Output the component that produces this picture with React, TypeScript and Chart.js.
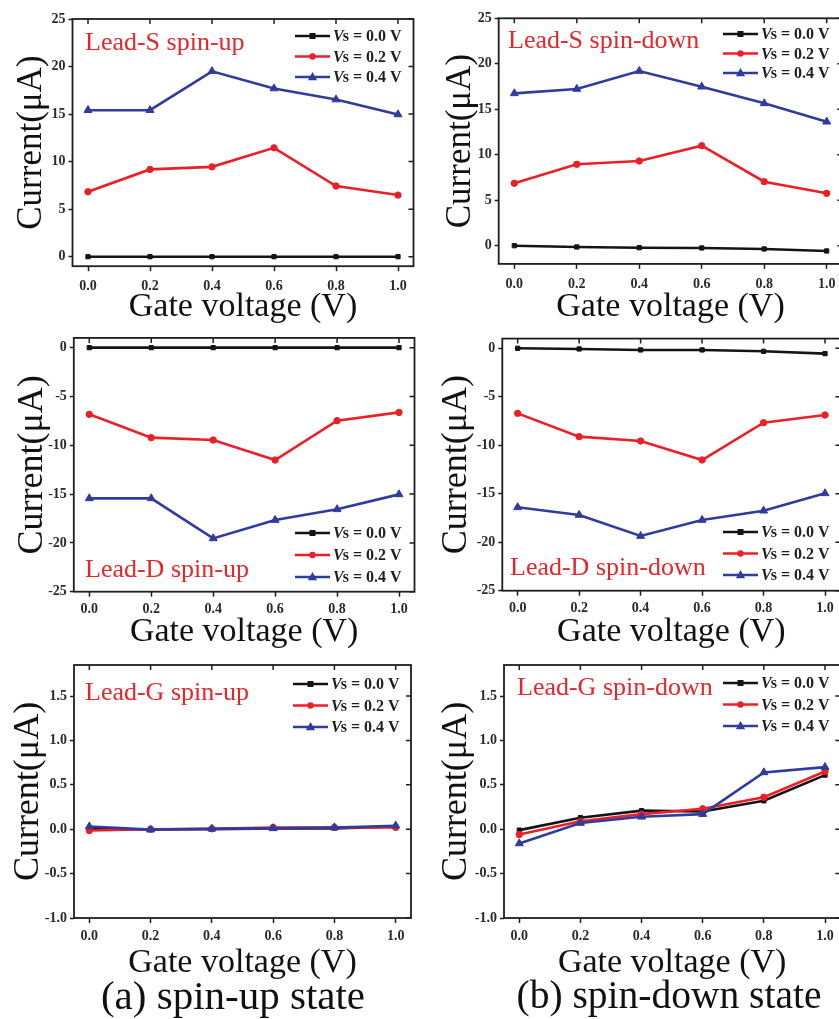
import React, { useEffect, useRef } from "react";
import { Chart, registerables } from "chart.js";

Chart.register(...registerables);

// ---------------- data ----------------
const GATE_V = [0, 0.2, 0.4, 0.6, 0.8, 1.0];
const X_TICKS = [0, 0.2, 0.4, 0.6, 0.8, 1.0];
const VS_LABELS = ["0.0", "0.2", "0.4"];

const S_UP_VS00 = [0, 0, 0, 0, 0, 0];
const S_UP_VS02 = [6.83, 9.18, 9.45, 11.45, 7.43, 6.48];
const S_UP_VS04 = [15.41, 15.41, 19.5, 17.69, 16.53, 14.96];

const S_DOWN_VS00 = [0, -0.14, -0.22, -0.25, -0.36, -0.58];
const S_DOWN_VS02 = [6.86, 8.95, 9.31, 11.0, 7.04, 5.76];
const S_DOWN_VS04 = [16.75, 17.23, 19.2, 17.48, 15.65, 13.63];

const D_UP_VS00 = [0, 0, 0, 0, 0, 0];
const D_UP_VS02 = [-6.83, -9.22, -9.46, -11.51, -7.48, -6.63];
const D_UP_VS04 = [-15.44, -15.44, -19.54, -17.66, -16.56, -15.03];

const D_DOWN_VS00 = [0, -0.07, -0.17, -0.17, -0.31, -0.55];
const D_DOWN_VS02 = [-6.71, -9.11, -9.56, -11.52, -7.67, -6.88];
const D_DOWN_VS04 = [-16.4, -17.19, -19.36, -17.71, -16.75, -14.96];

const G_UP_VS00 = [0, 0, 0, 0.01, 0.01, 0.03];
const G_UP_VS02 = [-0.015, 0, 0.005, 0.02, 0.02, 0.02];
const G_UP_VS04 = [0.03, -0.005, 0.005, 0.01, 0.02, 0.04];

const G_DOWN_VS00 = [-0.01, 0.13, 0.21, 0.2, 0.32, 0.61];
const G_DOWN_VS02 = [-0.06, 0.09, 0.17, 0.23, 0.36, 0.65];
const G_DOWN_VS04 = [-0.16, 0.07, 0.14, 0.17, 0.64, 0.7];

const Y_TICKS_S = [0, 5, 10, 15, 20, 25];
const Y_TICKS_D = [-25, -20, -15, -10, -5, 0];
const Y_TICKS_G = [-1.0, -0.5, 0, 0.5, 1.0, 1.5];

const PANEL_TITLES = [
  "Lead-S spin-up",
  "Lead-S spin-down",
  "Lead-D spin-up",
  "Lead-D spin-down",
  "Lead-G spin-up",
  "Lead-G spin-down",
];
const CAPTIONS = ["(a) spin-up state", "(b) spin-down state"];
const X_TITLE = "Gate voltage (V)";
const Y_TITLE = "Current(\u03bcA)";

// ---------------- styles / layout ----------------
const SERIF = '"Liberation Serif", "Times New Roman", Times, serif';
const COLORS = ["#141414", "#ec1f26", "#2f3c9e"];
const POINT_STYLES = ["rect", "circle", "triangle"];
const POINT_RADII = [3, 3.2, 4.6];
const TITLE_RED = "#e5262b";
const INK = "#1e1e1e";
const CAPTION_CENTERS = [233, 669];
const CAPTION_SIZES = [41, 39.5];

type Panel = {
  title: string;
  series: number[][];
  yTicks: number[];
  yMin: number;
  yMax: number;
  dec: number;
  area: { l: number; t: number; r: number; b: number };
  ox: number;
  xh: number;
  xPad: number;
  ySize: number;
  yPad: number;
  titleAt: [number, number];
  legendAt: [number, number, number];
};

const PANELS: Panel[] = [
  {
    title: PANEL_TITLES[0],
    series: [S_UP_VS00, S_UP_VS02, S_UP_VS04],
    yTicks: Y_TICKS_S, yMin: -1, yMax: 25, dec: 0,
    area: { l: 72.5, t: 19, r: 413.5, b: 266.2 },
    ox: 0, xh: 61, xPad: 7, ySize: 35, yPad: 11,
    titleAt: [85, 50], legendAt: [295, 36, 20.5],
  },
  {
    title: PANEL_TITLES[1],
    series: [S_DOWN_VS00, S_DOWN_VS02, S_DOWN_VS04],
    yTicks: Y_TICKS_S, yMin: -2, yMax: 25, dec: 0,
    area: { l: 498.7, t: 18.3, r: 842.3, b: 263.9 },
    ox: 420, xh: 63, xPad: 7, ySize: 35, yPad: 19.5,
    titleAt: [508, 48], legendAt: [723, 34, 19.5],
  },
  {
    title: PANEL_TITLES[2],
    series: [D_UP_VS00, D_UP_VS02, D_UP_VS04],
    yTicks: Y_TICKS_D, yMin: -25, yMax: 1, dec: 0,
    area: { l: 73.8, t: 337.9, r: 414.5, b: 591.7 },
    ox: 0, xh: 60, xPad: 4, ySize: 36, yPad: 10.5,
    titleAt: [85, 577], legendAt: [295, 533, 22],
  },
  {
    title: PANEL_TITLES[3],
    series: [D_DOWN_VS00, D_DOWN_VS02, D_DOWN_VS04],
    yTicks: Y_TICKS_D, yMin: -25, yMax: 1, dec: 0,
    area: { l: 502.3, t: 338.6, r: 840.4, b: 590.7 },
    ox: 420, xh: 61, xPad: 4, ySize: 36, yPad: 15,
    titleAt: [510, 575], legendAt: [723, 532, 21.5],
  },
  {
    title: PANEL_TITLES[4],
    series: [G_UP_VS00, G_UP_VS02, G_UP_VS04],
    yTicks: Y_TICKS_G, yMin: -1, yMax: 1.85, dec: 1,
    area: { l: 74, t: 665, r: 411, b: 918 },
    ox: 0, xh: 65, xPad: 5, ySize: 36, yPad: 7,
    titleAt: [85, 700], legendAt: [293, 684, 21.5],
  },
  {
    title: PANEL_TITLES[5],
    series: [G_DOWN_VS00, G_DOWN_VS02, G_DOWN_VS04],
    yTicks: Y_TICKS_G, yMin: -1, yMax: 1.85, dec: 1,
    area: { l: 504, t: 665, r: 840.3, b: 918 },
    ox: 420, xh: 65, xPad: 5, ySize: 36, yPad: 15,
    titleAt: [517, 695], legendAt: [723, 683, 21.5],
  },
];

function canvasRect(p: Panel) {
  const y = Math.floor(p.area.t) - 15;
  const x = p.ox;
  const w = Math.ceil(p.area.r) + 15 - x;
  const h = Math.round(p.area.b + p.xh - y);
  return { x, y, w, h };
}

function drawMarker(ctx: CanvasRenderingContext2D, style: string, x: number, y: number, r: number) {
  ctx.beginPath();
  if (style === "rect") {
    ctx.rect(x - r, y - r, 2 * r, 2 * r);
  } else if (style === "circle") {
    ctx.arc(x, y, r, 0, Math.PI * 2);
  } else {
    ctx.moveTo(x, y - r * 1.1);
    ctx.lineTo(x + r, y + r * 0.7);
    ctx.lineTo(x - r, y + r * 0.7);
    ctx.closePath();
  }
  ctx.fill();
}

function makeDecor(p: Panel, rect: { x: number; y: number }) {
  return {
    id: "panelDecor",
    afterDraw(chart: any) {
      const ctx: CanvasRenderingContext2D = chart.ctx;
      const a = chart.chartArea;
      const xs = chart.scales.x;
      const ys = chart.scales.y;
      ctx.save();
      // frame
      ctx.strokeStyle = INK;
      ctx.lineWidth = 1.8;
      ctx.strokeRect(a.left, a.top, a.right - a.left, a.bottom - a.top);
      // mirror ticks (inward) on top and right
      ctx.lineWidth = 1.5;
      ctx.beginPath();
      X_TICKS.forEach((v) => {
        const px = xs.getPixelForValue(v);
        ctx.moveTo(px, a.top);
        ctx.lineTo(px, a.top + 5);
      });
      p.yTicks.forEach((v) => {
        const py = ys.getPixelForValue(v);
        ctx.moveTo(a.right, py);
        ctx.lineTo(a.right - 5, py);
      });
      ctx.stroke();
      // panel title
      ctx.fillStyle = TITLE_RED;
      ctx.font = `26px ${SERIF}`;
      ctx.textBaseline = "alphabetic";
      ctx.textAlign = "left";
      ctx.fillText(p.title, p.titleAt[0] - rect.x, p.titleAt[1] - rect.y);
      // legend
      const [lx0, ly0, gap] = p.legendAt;
      const lx = lx0 - rect.x;
      chart.data.datasets.forEach((ds: any, i: number) => {
        const ly = ly0 - rect.y + i * gap;
        ctx.strokeStyle = COLORS[i];
        ctx.fillStyle = COLORS[i];
        ctx.lineWidth = 2.6;
        ctx.beginPath();
        ctx.moveTo(lx, ly);
        ctx.lineTo(lx + 35, ly);
        ctx.stroke();
        drawMarker(ctx, POINT_STYLES[i], lx + 17.5, ly, POINT_RADII[i]);
        ctx.fillStyle = INK;
        ctx.textBaseline = "middle";
        ctx.font = `italic bold 16px ${SERIF}`;
        const tx = lx + 38;
        ctx.fillText("V", tx, ly + 1);
        const vw = ctx.measureText("V").width;
        ctx.font = `bold 16px ${SERIF}`;
        ctx.fillText(`s = ${VS_LABELS[i]} V`, tx + vw - 1, ly + 1);
      });
      ctx.restore();
    },
  };
}

function PanelChart({ p }: { p: Panel }) {
  const ref = useRef<HTMLCanvasElement | null>(null);
  const rect = canvasRect(p);
  useEffect(() => {
    if (!ref.current) return;
    const padTop = p.area.t - rect.y;
    const padRight = rect.x + rect.w - p.area.r;
    const yWidth = p.area.l - rect.x;
    const xHeight = rect.y + rect.h - p.area.b;
    const chart = new Chart(ref.current, {
      type: "line",
      data: {
        datasets: p.series.map((s, i) => ({
          label: `Vs = ${VS_LABELS[i]} V`,
          data: GATE_V.map((x, k) => ({ x, y: s[k] })),
          borderColor: COLORS[i],
          backgroundColor: COLORS[i],
          borderWidth: 2.6,
          pointStyle: POINT_STYLES[i] as any,
          pointRadius: POINT_RADII[i],
          pointBackgroundColor: COLORS[i],
          pointBorderColor: COLORS[i],
          pointBorderWidth: 1,
          tension: 0,
          fill: false,
          order: 2 - i,
        })),
      },
      options: {
        animation: false,
        responsive: false,
        maintainAspectRatio: false,
        events: [],
        layout: { padding: { top: padTop, right: padRight, left: 0, bottom: 0 } },
        plugins: { legend: { display: false }, tooltip: { enabled: false } },
        scales: {
          x: {
            type: "linear",
            position: "bottom",
            min: -0.05,
            max: 1.05,
            afterBuildTicks: (sc: any) => {
              sc.ticks = X_TICKS.map((v) => ({ value: v }));
            },
            afterFit: (sc: any) => {
              sc.height = xHeight;
            },
            grid: {
              drawOnChartArea: false,
              drawTicks: true,
              tickLength: 5,
              tickWidth: 1.5,
              tickColor: INK,
            },
            border: { display: false },
            ticks: {
              padding: p.xPad,
              maxRotation: 0,
              autoSkip: false,
              color: "#2a2a2a",
              font: { family: SERIF, size: 14, weight: "bold" },
              callback: (v: any) => Number(v).toFixed(1),
            },
            title: {
              display: true,
              text: X_TITLE,
              color: "#111",
              font: { family: SERIF, size: 34, weight: "normal" },
              padding: { top: 0, bottom: 0 },
            },
          },
          y: {
            type: "linear",
            position: "left",
            min: p.yMin,
            max: p.yMax,
            afterBuildTicks: (sc: any) => {
              sc.ticks = p.yTicks.map((v) => ({ value: v }));
            },
            afterFit: (sc: any) => {
              sc.width = yWidth;
            },
            grid: {
              drawOnChartArea: false,
              drawTicks: true,
              tickLength: 4,
              tickWidth: 1.5,
              tickColor: INK,
            },
            border: { display: false },
            ticks: {
              padding: 3,
              autoSkip: false,
              color: "#2a2a2a",
              font: { family: SERIF, size: 14, weight: "bold" },
              callback: (v: any) => Number(v).toFixed(p.dec),
            },
            title: {
              display: true,
              text: Y_TITLE,
              color: "#111",
              font: { family: SERIF, size: p.ySize, weight: "normal" },
              padding: { top: p.yPad, bottom: 0 },
            },
          },
        },
      },
      plugins: [makeDecor(p, rect)],
    } as any);
    return () => chart.destroy();
  }, []);
  return (
    <canvas
      ref={ref}
      width={rect.w}
      height={rect.h}
      style={{ position: "absolute", left: rect.x, top: rect.y, width: rect.w, height: rect.h }}
    />
  );
}

export default function App() {
  return (
    <div
      style={{
        position: "absolute",
        left: 0,
        top: 0,
        width: 839,
        height: 1019,
        overflow: "hidden",
        background: "#fff",
      }}
    >
      {PANELS.map((p, i) => (
        <PanelChart key={i} p={p} />
      ))}
      {CAPTIONS.map((c, i) => (
        <div
          key={c}
          style={{
            position: "absolute",
            left: CAPTION_CENTERS[i] - 250,
            width: 500,
            top: 975,
            textAlign: "center",
            fontFamily: SERIF,
            fontSize: CAPTION_SIZES[i],
            lineHeight: "41px",
            color: "#111",
            whiteSpace: "nowrap",
          }}
        >
          {c}
        </div>
      ))}
    </div>
  );
}
